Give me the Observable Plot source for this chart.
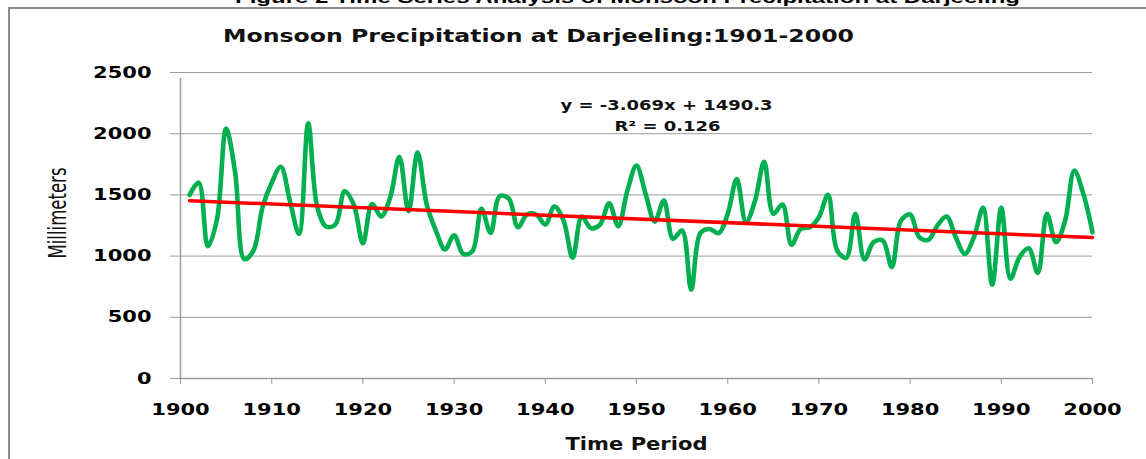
<!DOCTYPE html>
<html>
<head>
<meta charset="utf-8">
<script src="https://cdn.jsdelivr.net/npm/d3@7"></script>
<script src="https://cdn.jsdelivr.net/npm/@observablehq/plot@0.6"></script>
<style>
  html, body { margin: 0; padding: 0; background: #fff; }
  #wrap { position: relative; width: 1146px; height: 459px; overflow: hidden; background: #fff; }
  #frame { position: absolute; left: 8px; top: 7px; width: 1200px; height: 600px;
           border-left: 2px solid #8c8c8c; border-top: 2px solid #8c8c8c; }
  .fit { position: absolute; white-space: nowrap; line-height: 1; transform-origin: 0 0; }
  #caption { font-family: "Liberation Sans", Arial, sans-serif; font-weight: bold; font-size: 17px; color: #000; }
  #title { font-family: "DejaVu Sans", sans-serif; font-weight: bold; font-size: 18px; color: #111; }
  #chart { position: absolute; left: 0; top: 0; }
</style>
</head>
<body>
<div id="wrap">
  <div id="frame"></div>
  <div id="chart"></div>
  <div id="caption" class="fit">Figure 2 Time Series Analysis of Monsoon Precipitation at Darjeeling</div>
  <div id="title" class="fit">Monsoon Precipitation at Darjeeling:1901-2000</div>
</div>
<script>
// ---- data ----
const firstYear = 1901;
const precipitation = [
  1500, 1600, 1080, 1300, 2040, 1680, 975, 1045, 1400, 1600,   // 1901-1910
  1730, 1450, 1180, 2085, 1400, 1240, 1260, 1530, 1420, 1105,  // 1911-1920
  1426, 1323, 1480, 1812, 1366, 1847, 1420, 1209, 1054, 1170,  // 1921-1930
  1018, 1040, 1386, 1190, 1490, 1470, 1236, 1340, 1340, 1258,  // 1931-1940
  1405, 1290, 986, 1323, 1228, 1258, 1432, 1244, 1535, 1739,   // 1941-1950
  1508, 1282, 1453, 1141, 1209, 725, 1187, 1222, 1187, 1345,   // 1951-1960
  1630, 1277, 1453, 1771, 1345, 1421, 1092, 1222, 1236, 1318,  // 1961-1970
  1500, 1046, 986, 1345, 972, 1114, 1127, 910, 1290, 1340,     // 1971-1980
  1155, 1133, 1250, 1323, 1155, 1018, 1155, 1394, 766, 1394,   // 1981-1990
  815, 992, 1064, 863, 1345, 1114, 1290, 1698, 1508, 1195      // 1991-2000
];
const xTicks = [1900, 1910, 1920, 1930, 1940, 1950, 1960, 1970, 1980, 1990, 2000];
const yTicks = [0, 500, 1000, 1500, 2000, 2500];
const equationText = "y = -3.069x + 1490.3";
const r2Text = "R² = 0.126";
const xLabel = "Time Period";
const yLabel = "Millimeters";

const data = precipitation.map((v, i) => ({year: firstYear + i, value: v}));

const gray = "#9c9c9c";

const chart = Plot.plot({
  width: 1146,
  height: 459,
  marginLeft: 180,
  marginRight: 54,
  marginTop: 72,
  marginBottom: 81,
  style: {fontFamily: "DejaVu Sans, sans-serif", fontWeight: "bold", fontSize: "16px", background: "transparent", overflow: "visible"},
  x: {domain: [1900, 2000]},
  y: {domain: [0, 2500]},
  marks: [
    Plot.ruleY(yTicks.filter(d => d > 0), {stroke: gray, strokeWidth: 1}),
    Plot.ruleY([0], {stroke: gray, strokeWidth: 1.5}),
    Plot.ruleX([1900], {y1: 0, y2: 2500, stroke: gray, strokeWidth: 1.5, insetBottom: -6}),
    Plot.axisX({ticks: xTicks, tickFormat: d => String(d), tickSize: 6, tickPadding: 19,
                stroke: gray, fill: "#000", label: null}),
    Plot.axisY({ticks: yTicks, tickFormat: d => String(d), tickSize: 10, tickPadding: 19,
                stroke: gray, fill: "#000", label: null}),
    Plot.line(data, {x: "year", y: "value", curve: "catmull-rom", stroke: "#00B050", strokeWidth: 4.6,
                     strokeLinejoin: "round", strokeLinecap: "round"}),
    Plot.linearRegressionY(data, {x: "year", y: "value", stroke: "#FF0000", strokeWidth: 3.5, ci: 0}),
    Plot.text([equationText], {frameAnchor: "top", dx: 30, dy: 28, fontSize: 14, fill: "#111"}),
    Plot.text([r2Text], {frameAnchor: "top", dx: 31, dy: 49, fontSize: 14, fill: "#111"}),
    Plot.text([xLabel], {frameAnchor: "bottom", dy: 71, fontSize: 18, fill: "#111"}),
    Plot.text([yLabel], {frameAnchor: "left", dx: -123, dy: 33, rotate: -90, fontSize: 25, textAnchor: "start",
                         fontWeight: "normal", fontFamily: "Liberation Sans Narrow, DejaVu Sans Condensed, sans-serif", fill: "#111"})
  ]
});
document.getElementById("chart").appendChild(chart);

// stretch text to the reference widths (the original chart is horizontally stretched)
const svg = d3.select(chart);
const widths = {};
widths[equationText] = 212;
widths[r2Text] = 106;
widths[xLabel] = 142;
widths[yLabel] = 91;
svg.selectAll("text").each(function() {
  const t = this.textContent;
  let w = widths[t];
  if (w == null && /^\d+$/.test(t)) w = t.length * 14.6;
  if (w != null) {
    this.setAttribute("textLength", w);
    this.setAttribute("lengthAdjust", "spacingAndGlyphs");
  }
});

function fit(id, left, baseline, width) {
  const el = document.getElementById(id);
  const fs = parseFloat(getComputedStyle(el).fontSize);
  const r = el.getBoundingClientRect();
  el.style.left = left + "px";
  el.style.top = (baseline - 0.85 * fs) + "px";
  el.style.transform = `scaleX(${width / r.width})`;
}
fit("caption", 235, 3.5, 785);
fit("title", 222.5, 42.5, 631);
</script>
</body>
</html>
